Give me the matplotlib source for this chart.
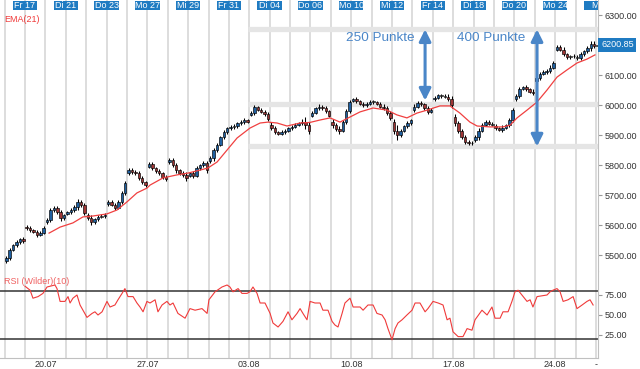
import matplotlib
matplotlib.use("Agg")
import matplotlib.pyplot as plt
from matplotlib.patches import Rectangle
import numpy as np

plt.rcParams['font.family'] = ['Liberation Sans', 'DejaVu Sans']

# day index 0 = Fr 17.07 ; vertical grid line = start of a trading day
first_day = -1
last_day = 28
bars_per_day = 6

top_labels = ["Fr 17", "Di 21", "Do 23", "Mo 27", "Mi 29", "Fr 31", "Di 04", "Do 06",
              "Mo 10", "Mi 12", "Fr 14", "Di 18", "Do 20", "Mo 24", "Mi"]
top_label_days = [0, 2, 4, 6, 8, 10, 12, 14, 16, 18, 20, 22, 24, 26, 28]
week_labels = ["20.07", "27.07", "03.08", "10.08", "17.08", "24.08", "-"]
week_days = [1, 6, 11, 16, 21, 26, 28]

# opening price of each day (Do 16 ... Mi 26)
day_open = [5480, 5595, 5610, 5638, 5632, 5670, 5775, 5795, 5810, 5765, 5812, 5922,
            5968, 5935, 5922, 5965, 5945, 6015, 6012, 5945, 5985, 6020, 5960, 5882,
            5930, 6020, 6080, 6185, 6160, 6198]

close = [
    5490, 5517, 5533, 5543, 5553, 5548,   # Do 16
    5590, 5583, 5577, 5568, 5575, 5590,   # Fr 17
    5617, 5650, 5657, 5643, 5623, 5633,   # Mo 20
    5643, 5650, 5660, 5677, 5667, 5640,   # Di 21
    5625, 5610, 5620, 5628, 5630, 5635,   # Mi 22
    5677, 5667, 5657, 5677, 5707, 5740,   # Do 23
    5783, 5777, 5773, 5757, 5743, 5733,   # Fr 24
    5803, 5790, 5780, 5773, 5760, 5755,   # Mo 27
    5817, 5800, 5783, 5773, 5767, 5757,   # Di 28
    5773, 5765, 5790, 5800, 5807, 5783,   # Mi 29
    5823, 5850, 5867, 5893, 5910, 5923,   # Do 30
    5927, 5930, 5940, 5945, 5950, 5945,   # Fr 31
    5975, 5993, 5985, 5978, 5970, 5955,   # Mo 03
    5925, 5910, 5905, 5910, 5915, 5922,   # Di 04
    5928, 5935, 5940, 5945, 5935, 5915,   # Mi 05
    5975, 5990, 5995, 5990, 5980, 5965,   # Do 06
    5933, 5920, 5915, 5945, 5980, 6010,   # Fr 07
    6020, 6012, 6005, 6000, 6005, 6010,   # Mo 10
    6010, 6005, 5995, 5990, 5973, 5957,   # Di 11
    5915, 5900, 5915, 5930, 5940, 5950,   # Mi 12
    5995, 6007, 6003, 5990, 5978, 5985,   # Do 13
    6025, 6032, 6030, 6028, 6020, 6000,   # Fr 14
    5940, 5915, 5893, 5878, 5873, 5875,   # Mo 17
    5893, 5915, 5935, 5945, 5938, 5935,   # Di 18
    5923, 5918, 5925, 5933, 5950, 5983,   # Mi 19
    6030, 6055, 6060, 6052, 6045, 6040,   # Do 20
    6090, 6105, 6110, 6115, 6125, 6140,   # Fr 21
    6195, 6185, 6170, 6160, 6162, 6165,   # Mo 24
    6157, 6170, 6180, 6190, 6205, 6198,   # Di 25
    6200.85,                              # Mi 26
]

# shadow length beyond the body, points
wick = [
    8, 6, 5, 6, 5, 8,
    5, 6, 5, 8, 5, 6,
    6, 8, 5, 6, 8, 5,
    5, 6, 8, 10, 6, 5,
    8, 10, 5, 5, 6, 5,
    8, 5, 6, 5, 8, 6,
    8, 6, 5, 8, 6, 5,
    6, 8, 5, 6, 5, 8,
    5, 6, 8, 5, 6, 10,
    5, 8, 6, 5, 6, 8,
    6, 8, 6, 5, 6, 5,
    5, 6, 5, 6, 8, 5,
    6, 8, 5, 6, 5, 8,
    8, 6, 5, 6, 5, 6,
    5, 6, 5, 8, 15, 10,
    6, 5, 8, 5, 6, 5,
    8, 6, 10, 5, 8, 6,
    5, 6, 5, 6, 5, 6,
    6, 5, 6, 8, 6, 8,
    10, 18, 6, 5, 6, 5,
    8, 5, 6, 5, 8, 6,
    5, 6, 5, 6, 8, 10,
    10, 8, 6, 8, 5, 6,
    6, 8, 5, 6, 5, 6,
    6, 5, 8, 5, 6, 8,
    8, 6, 5, 6, 5, 8,
    6, 5, 6, 5, 8, 6,
    6, 5, 8, 5, 6, 5,
    6, 8, 5, 6, 10, 8,
    8,
]

ema_t = [1.18, 1.72, 2.35, 2.84, 3.33, 4.02, 4.51, 5.00, 5.49, 5.98, 6.13, 6.77, 7.45,
         7.99, 8.58, 8.97, 9.42, 9.91, 10.40, 11.03, 11.53, 11.92, 12.36, 12.85, 13.49,
         13.98, 14.47, 14.96, 15.45, 15.94, 16.43, 17.07, 17.75, 18.24, 18.73, 19.22,
         19.72, 20.35, 20.84, 21.33, 21.82, 22.17, 22.81, 23.44, 23.79, 24.13, 24.62,
         25.11, 25.60, 26.09, 26.58, 27.07, 27.56, 27.95]
ema_v = [5573, 5593, 5607, 5627, 5630, 5637, 5650, 5677, 5707, 5723, 5733, 5757, 5767,
         5773, 5783, 5790, 5810, 5850, 5890, 5923, 5940, 5943, 5940, 5930, 5940,
         5942, 5950, 5957, 5943, 5960, 5977, 5990, 5983, 5967, 5957, 5973,
         5983, 5997, 5997, 5973, 5943, 5930, 5927, 5927, 5933, 5957, 5983,
         6010, 6050, 6093, 6117, 6140, 6153, 6167]

rsi_t = [0.00, 0.25, 0.39, 0.64, 0.88, 1.08, 1.47, 1.57, 1.72, 1.96, 2.11, 2.21, 2.35,
         2.55, 2.70, 2.84, 3.04, 3.29, 3.43, 3.58, 3.78, 4.02, 4.17, 4.41, 4.56, 4.76,
         4.90, 5.05, 5.30, 5.49, 5.64, 5.79, 5.98, 6.13, 6.38, 6.52, 6.72, 6.96, 7.11,
         7.26, 7.50, 7.85, 8.09, 8.34, 8.68, 8.93, 9.02, 9.32, 9.66, 9.91, 10.05, 10.20,
         10.45, 10.64, 10.89, 11.03, 11.18, 11.38, 11.53, 11.77, 12.02, 12.16, 12.41,
         12.65, 12.90, 13.09, 13.34, 13.49, 13.63, 13.83, 13.98, 14.22, 14.47, 14.61,
         14.86, 15.06, 15.20, 15.35, 15.55, 15.69, 15.94, 16.09, 16.43, 16.58, 16.82,
         17.07, 17.26, 17.51, 17.66, 17.80, 18.00, 18.15, 18.29, 18.49, 18.73, 18.98,
         19.13, 19.37, 19.62, 19.76, 20.01, 20.26, 20.50, 20.70, 20.84, 20.99, 21.24,
         21.48, 21.68, 21.92, 22.07, 22.41, 22.66, 22.90, 23.05, 23.30, 23.44, 23.69,
         23.88, 24.03, 24.18, 24.37, 24.62, 24.77, 24.91, 25.11, 25.60, 25.75, 25.89,
         26.09, 26.24, 26.39, 26.63, 26.88, 27.07, 27.32, 27.56, 27.71, 27.86]
rsi_v = [86, 81, 71, 73, 77, 85, 87.5, 83, 67, 67, 73, 65, 71,
         75, 62.5, 56, 47, 52, 54, 50, 54, 67, 60, 62.5, 69, 77,
         83, 73, 73, 65, 60, 54, 67, 65, 69, 54, 62.5, 67, 62.5,
         65, 52, 46, 58, 56, 58, 52, 69, 79, 85, 87.5, 85, 79,
         83, 77, 77, 79, 85, 77, 65, 65, 52, 40, 35,
         42, 54, 44, 52, 58, 52, 44, 67, 65, 65, 56,
         56, 42, 37.5, 35, 52, 65, 71, 60, 60, 56, 62.5,
         62.5, 52, 50, 44, 33, 19, 33, 40, 44, 50, 56,
         65, 65, 54, 58, 67, 65, 62.5, 44, 46, 29, 23,
         23, 33, 31, 44, 56, 50, 60, 46, 46, 54, 54,
         67, 79, 81, 75, 67, 69, 60, 73, 75, 79, 81,
         83, 79, 67, 69, 73, 58, 62.5, 67, 69, 62.5]

band_levels = [6252, 6003, 5862]
band_start = 10.94
arrow_x = [19.62, 25.11]
arrow_top = [6252, 6252]
arrow_bottom = [6015, 5862]
arrow_text = ["250 Punkte", "400 Punkte"]
arrow_text_x = [17.41, 22.85]
arrow_text_y = 6223
price_ticks = [5500, 5600, 5700, 5800, 5900, 6000, 6100, 6200, 6300]
rsi_ticks = [25, 50, 75]
rsi_levels = [20, 80]

blue_box = '#1f7bc2'
grid_c = '#dadada'
txt_c = '#333333'
x_lo, x_hi = -1.226, 28.10

fig = plt.figure(figsize=(6.4, 3.69), dpi=100, facecolor='white')
ax = fig.add_axes([0, 98 / 369, 598 / 640, 271 / 369])
rx = fig.add_axes([0, 11 / 369, 598 / 640, 87 / 369])

for a in (ax, rx):
    a.set_xlim(x_lo, x_hi)
    for d in range(first_day, last_day + 1):
        a.axvline(d, color=grid_c, lw=1.3, zorder=0)
    for s in ('top', 'left'):
        a.spines[s].set_visible(False)
    a.spines['right'].set_color('#c0c0c0')
    a.spines['bottom'].set_color('#c0c0c0')
    a.yaxis.tick_right()
    a.tick_params(axis='y', length=3, color='#999999', labelsize=6.5,
                  labelcolor=txt_c, pad=1.5)
ax.spines['bottom'].set_visible(False)

# ---- price panel
last_price = close[-1]
ax.set_ylim(5446.7, 6350)
ax.set_xticks([])
ax.set_yticks(price_ticks)
# the last-price box sits on top of the nearest tick label, so that one stays blank
ax.set_yticklabels(["" if abs(v - last_price) < 30 else f"{v:.2f}" for v in price_ticks])

for lv in band_levels:
    ax.hlines(lv, band_start, x_hi, color='#e5e5e5', lw=3.8, zorder=1)

c = np.array(close, dtype=float)
idx = np.arange(len(c))
day = idx // bars_per_day + first_day
k = idx % bars_per_day
xs = day + (k + 0.5) / bars_per_day
o = np.where(k == 0, np.array(day_open, dtype=float)[day - first_day], np.roll(c, 1))
w = np.array(wick, dtype=float)
hi = np.maximum(o, c) + w
lo = np.minimum(o, c) - w
cols = np.where(np.abs(c - o) <= 3, '#b5b5b5', np.where(c > o, '#1f5f9f', '#9e3535'))

ax.vlines(xs, lo, hi, color='black', lw=0.75, zorder=3)
ax.bar(xs, np.maximum(np.abs(c - o), 1.5), bottom=np.minimum(o, c), width=0.12,
       color=cols, edgecolor='black', linewidth=0.45, zorder=4)

ax.plot(ema_t, ema_v, color='#f04040', lw=0.9, zorder=5)

for x0, t0, b0 in zip(arrow_x, arrow_top, arrow_bottom):
    ax.annotate('', xy=(x0, t0), xytext=(x0, b0),
                arrowprops=dict(arrowstyle='<|-|>,head_length=0.5,head_width=0.25',
                                color='#4a86c8', lw=2.2, shrinkA=0, shrinkB=0,
                                mutation_scale=14), zorder=6)
for tx, lab in zip(arrow_text_x, arrow_text):
    ax.text(tx, arrow_text_y, lab, ha='center', va='center', fontsize=9.7,
            color='#4a86c8', zorder=6)

xtr = ax.get_xaxis_transform()
for d, lab in zip(top_label_days, top_labels):
    ax.add_patch(Rectangle((d - 0.6, 1 - 9.5 / 271), 1.2, 8.5 / 271, transform=xtr,
                           fc=blue_box, ec='none', zorder=7))
    ax.text(d, 1 - 5.3 / 271, lab, transform=xtr, ha='center', va='center',
            fontsize=6.5, color='white', clip_on=True, zorder=8)

ax.text(0.007, 1 - 19 / 271, "EMA(21)", transform=ax.transAxes, ha='left',
        va='center', fontsize=6.5, color='#f03a3a')

ytr = ax.get_yaxis_transform()
ax.text(1.0 + 3 / 598, last_price, f"{last_price:.2f}", transform=ytr, ha='left',
        va='center', fontsize=6.5, color='white', clip_on=False, zorder=10,
        bbox=dict(boxstyle='square,pad=0.3', fc=blue_box, ec='none'))

# ---- RSI panel
rx.set_ylim(-3.75, 105)
rx.set_yticks(rsi_ticks)
rx.set_yticklabels([f"{v:.2f}" for v in rsi_ticks])
for lv in rsi_levels:
    rx.axhline(lv, color='#333333', lw=1.1, zorder=2)
rx.plot(rsi_t, rsi_v, color='#f03a3a', lw=0.8, zorder=3)
rx.set_xticks(week_days)
rx.set_xticklabels(week_labels)
rx.tick_params(axis='x', length=0, pad=1.5, labelsize=6.5, labelcolor=txt_c)
rx.text(0.007, 1 - 10 / 87, "RSI (Wilder)(10)", transform=rx.transAxes, ha='left',
        va='center', fontsize=6.5, color='#f06060')

fig.savefig("out.png", dpi=100, facecolor='white')
